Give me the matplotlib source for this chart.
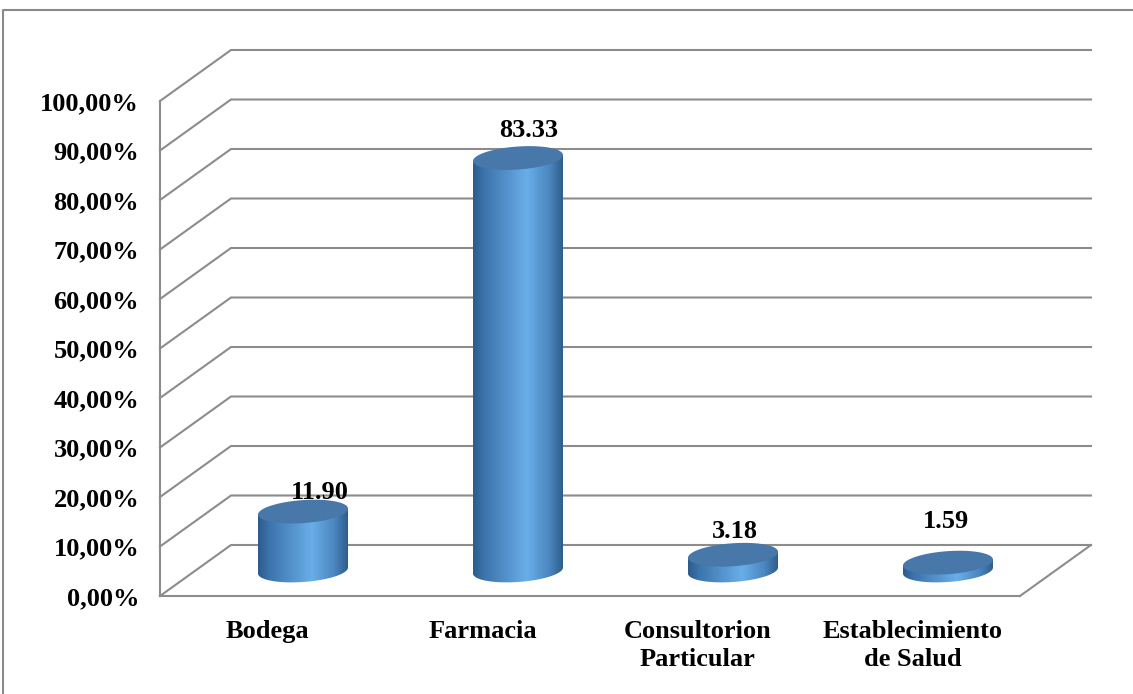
import numpy as np
import matplotlib
matplotlib.use('Agg')
import matplotlib.pyplot as plt
from matplotlib.path import Path
from matplotlib.patches import PathPatch, Polygon
from matplotlib.lines import Line2D
from matplotlib.colors import LinearSegmentedColormap

# ---- data ----
categories = ['Bodega', 'Farmacia', 'Consultorion\nParticular', 'Establecimiento\nde Salud']
values = [11.90, 83.33, 3.18, 1.59]
value_labels = ['11.90', '83.33', '3.18', '1.59']
y_ticks = [0, 10, 20, 30, 40, 50, 60, 70, 80, 90, 100]
y_tick_labels = ['0,00%', '10,00%', '20,00%', '30,00%', '40,00%', '50,00%',
                 '60,00%', '70,00%', '80,00%', '90,00%', '100,00%']

# ---- style / layout ----
label_offsets_px = [(17, 13), (11, 21), (2, 17), (-2, 35)]
FONT = 'Liberation Serif'
FS = 19
GRID = '#8c8c8c'
W, H = 1133, 694

fig = plt.figure(figsize=(W / 100, H / 100), dpi=100)
fig.patch.set_facecolor('white')
ax = fig.add_axes([160 / W, 98 / H, 860 / W, 495 / H])
ax.set_xlim(-0.5, 3.5)
ax.set_ylim(0, 100)
ax.set_facecolor('none')

# oblique depth offsets in data units (back wall shift)
px_per_x = 860 / 4
px_per_y = 495 / 100
DX = 71 / px_per_x
DY = 51 / px_per_y

for s in ['top', 'right']:
    ax.spines[s].set_visible(False)
for s in ['left', 'bottom']:
    ax.spines[s].set_color(GRID)
    ax.spines[s].set_linewidth(1.5)

ax.set_yticks(y_ticks)
ax.set_yticklabels(y_tick_labels, fontfamily=FONT, fontweight='bold', fontsize=FS)
ax.set_xticks(range(len(categories)))
ax.set_xticklabels(categories, fontfamily=FONT, fontweight='bold', fontsize=FS)
for lbl in ax.get_xticklabels():
    lbl.set_linespacing(1.3)
ax.tick_params(axis='y', length=0, pad=15)
ax.tick_params(axis='x', length=0, pad=17)

# gridlines: side wall diagonal + back wall horizontal
for v in y_ticks:
    ax.plot([-0.5, -0.5 + DX, 3.5 + DX], [v, v + DY, v + DY],
            color=GRID, lw=1.5, clip_on=False, zorder=1, solid_joinstyle='miter')
# right edge of floor
ax.plot([3.5, 3.5 + DX], [0, DY], color=GRID, lw=1.5, clip_on=False, zorder=1)

# cylinders
cmap = LinearSegmentedColormap.from_list('cyl', [
    (0.0, '#2c5b8b'), (0.12, '#3c73ab'), (0.6, '#69aee9'),
    (0.85, '#4b86c0'), (1.0, '#2e5d8b')])
grad = np.linspace(0, 1, 256).reshape(1, -1)

a = 45 / px_per_x
b = 11.5 / px_per_y
k = 3 / px_per_y

for i, v in enumerate(values):
    cx = i + 0.5 * DX
    base = 0.5 * DY
    top = base + v
    t = np.linspace(np.pi, 2 * np.pi, 60)
    bx = cx + a * np.cos(t)
    by = base + b * np.sin(t) + k * np.cos(t)
    verts = [(cx - a, top - k), (cx - a, base - k)] + list(zip(bx, by)) + \
            [(cx + a, base + k), (cx + a, top + k), (cx - a, top - k)]
    codes = [Path.MOVETO] + [Path.LINETO] * (len(verts) - 2) + [Path.CLOSEPOLY]
    body = PathPatch(Path(verts, codes), transform=ax.transData,
                     facecolor='none', edgecolor='none')
    ax.add_patch(body)
    body.set_clip_on(False)
    im = ax.imshow(grad, cmap=cmap, aspect='auto', origin='lower',
                   extent=(cx - a, cx + a, base - b - k - 1, top + k + 1),
                   zorder=3, interpolation='bilinear')
    im.set_clip_path(body)
    tt = np.linspace(0, 2 * np.pi, 120)
    ex = cx + a * np.cos(tt)
    ey = top + b * np.sin(tt) + k * np.cos(tt)
    ax.add_patch(Polygon(np.column_stack([ex, ey]), closed=True,
                         facecolor='#4778a9', edgecolor='none', zorder=4,
                         clip_on=False))
    ox, oy = label_offsets_px[i]
    ax.annotate(value_labels[i], (cx, top), xytext=(ox, oy),
                textcoords='offset pixels', ha='center', va='baseline',
                fontfamily=FONT, fontweight='bold', fontsize=FS, zorder=5,
                annotation_clip=False)

ax.set_xlim(-0.5, 3.5)
ax.set_ylim(0, 100)

# outer frame
fig.add_artist(Line2D([3 / W, 3 / W, 1.0], [0.0, 1 - 10 / H, 1 - 10 / H],
                      transform=fig.transFigure, color='#8a8a8a', lw=1.5))

fig.savefig('out.png', dpi=100, facecolor='white')
